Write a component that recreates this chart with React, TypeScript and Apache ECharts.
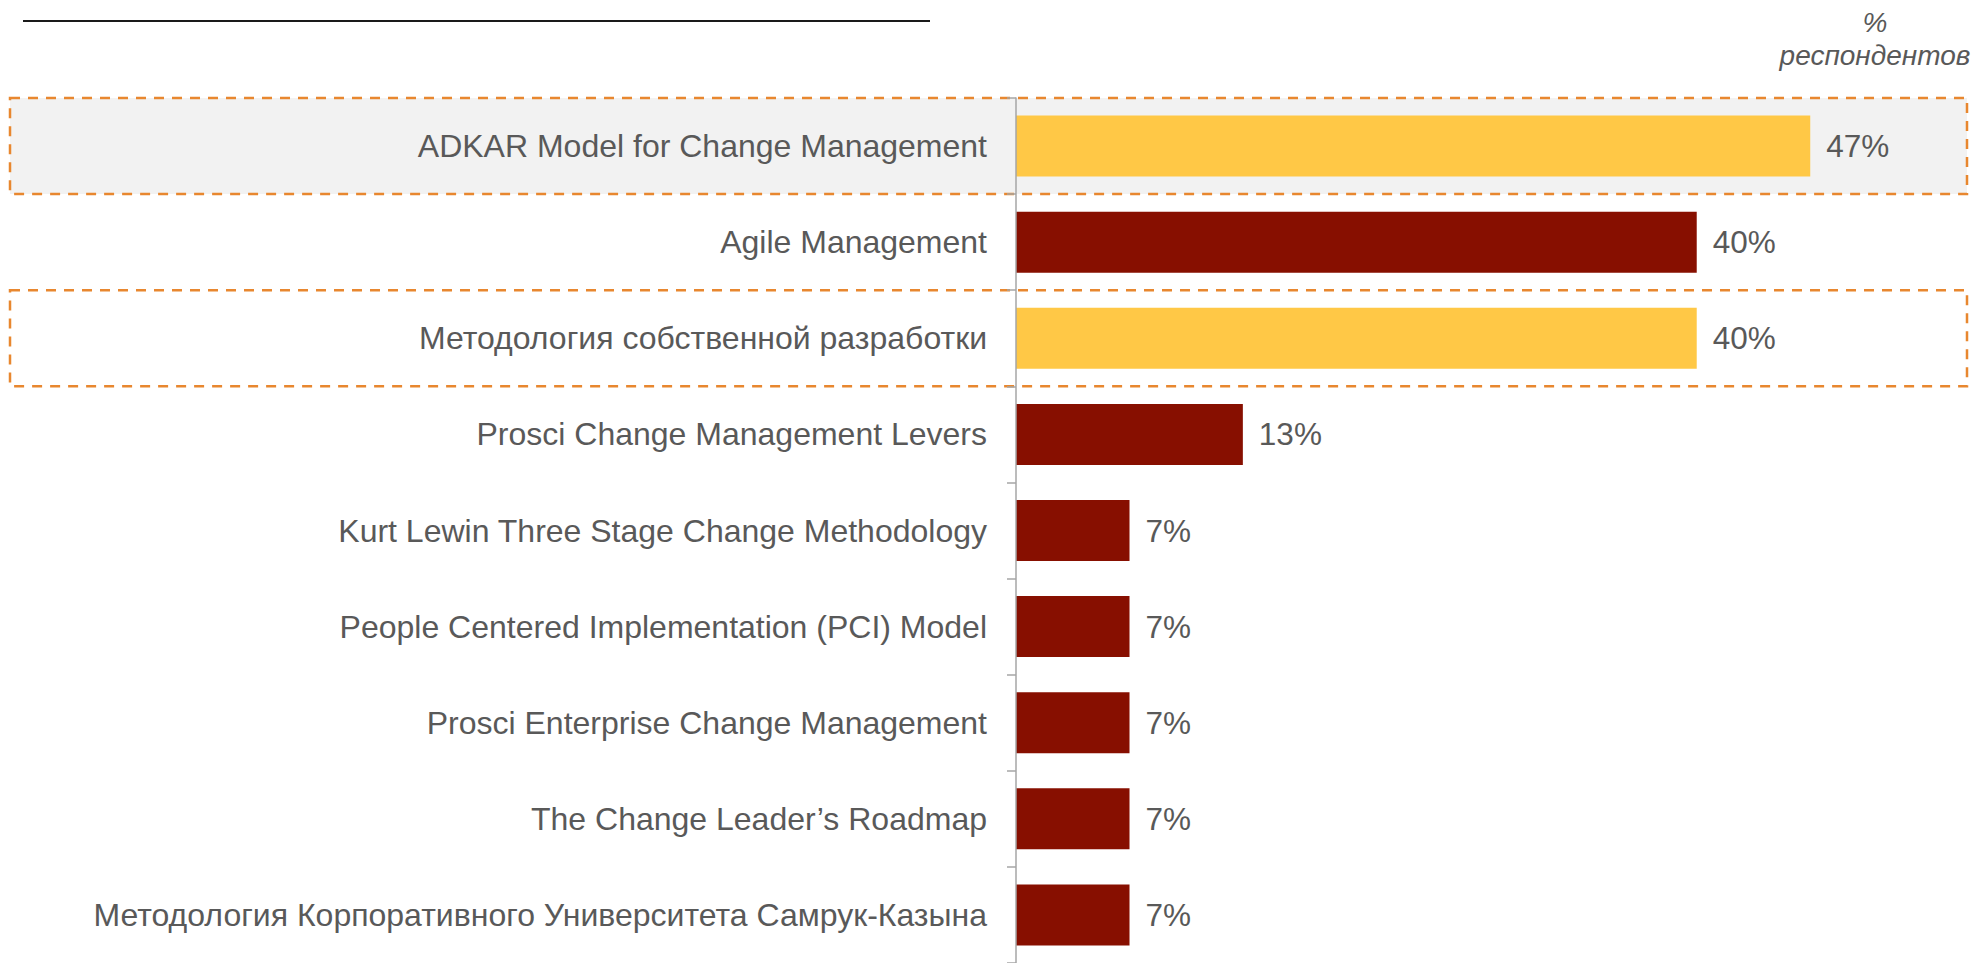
import React, { useEffect, useRef } from "react";
import * as echarts from "echarts";

const categories: string[] = [
  "ADKAR Model for Change Management",
  "Agile Management",
  "Методология собственной разработки",
  "Prosci Change Management Levers",
  "Kurt Lewin Three Stage Change Methodology",
  "People Centered Implementation (PCI) Model",
  "Prosci Enterprise Change Management",
  "The Change Leader’s Roadmap",
  "Методология Корпоративного Университета Самрук-Казына",
];

const values: number[] = [46.67, 40, 40, 13.33, 6.67, 6.67, 6.67, 6.67, 6.67];

const highlighted: string[] = [
  "ADKAR Model for Change Management",
  "Методология собственной разработки",
];

const unitLines: string[] = ["%", "респондентов"];

const FONT = "Arial, 'Liberation Sans', Helvetica, sans-serif";
const TEXT = "#595959";
const YELLOW = "#FFC846";
const DARKRED = "#870F00";
const ORANGE = "#E8872F";

export default function App() {
  const ref = useRef<HTMLDivElement>(null);

  useEffect(() => {
    if (!ref.current) return;
    const chart = echarts.init(ref.current, undefined, { renderer: "svg" });

    const option: any = {
      animation: false,
      backgroundColor: "#ffffff",
      grid: { left: 1016, top: 98, width: 936, height: 868.5, containLabel: false },
      xAxis: {
        type: "value",
        min: 0,
        max: 55,
        show: false,
        splitLine: { show: false },
      },
      yAxis: {
        type: "category",
        inverse: true,
        data: categories,
        z: 5,
        axisLine: { show: true, lineStyle: { color: "#A6A6A6", width: 1.5 } },
        axisTick: {
          show: true,
          inside: false,
          length: 9,
          alignWithLabel: false,
          lineStyle: { color: "#A6A6A6", width: 1.5 },
        },
        axisLabel: {
          fontSize: 32,
          color: TEXT,
          fontFamily: FONT,
          margin: 29,
        },
        splitLine: { show: false },
      },
      series: [
        {
          type: "bar",
          barWidth: 61,
          z: 4,
          data: values.map((v, i) => ({
            value: v,
            itemStyle: {
              color: highlighted.includes(categories[i]) ? YELLOW : DARKRED,
            },
          })),
          label: {
            show: true,
            position: "right",
            distance: 16,
            fontSize: 31.5,
            color: TEXT,
            fontFamily: FONT,
            formatter: (p: any) => Math.round(p.value) + "%",
          },
        },
      ],
    };
    chart.setOption(option);

    const c0 = chart.convertToPixel({ yAxisIndex: 0 }, categories[0]) as number;
    const c1 = chart.convertToPixel({ yAxisIndex: 0 }, categories[1]) as number;
    const band = Math.abs(c1 - c0);

    const boxes = highlighted.map((name, k) => {
      const cy = chart.convertToPixel({ yAxisIndex: 0 }, name) as number;
      const filled = k === 0;
      return {
        type: "rect",
        z: 0,
        shape: { x: 10, y: cy - band / 2, width: 1957, height: band },
        style: {
          fill: filled ? "#F2F2F2" : "transparent",
          stroke: ORANGE,
          lineWidth: 2.5,
          lineDash: [10, 8],
        },
      };
    });

    chart.setOption({
      graphic: [
        ...boxes,
        {
          type: "line",
          z: 1,
          shape: { x1: 23, y1: 21, x2: 930, y2: 21 },
          style: { stroke: "#1a1a1a", lineWidth: 1.8 },
        },
        {
          type: "text",
          z: 1,
          x: 1875,
          y: 39,
          style: {
            text: unitLines.join("\n"),
            textAlign: "center",
            textVerticalAlign: "middle",
            fontSize: 28,
            lineHeight: 33,
            fontStyle: "italic",
            fontFamily: FONT,
            fill: TEXT,
          },
        },
      ],
    });

    return () => {
      chart.dispose();
    };
  }, []);

  return (
    <div
      ref={ref}
      style={{ position: "fixed", left: 0, top: 0, width: 1972, height: 963 }}
    />
  );
}
